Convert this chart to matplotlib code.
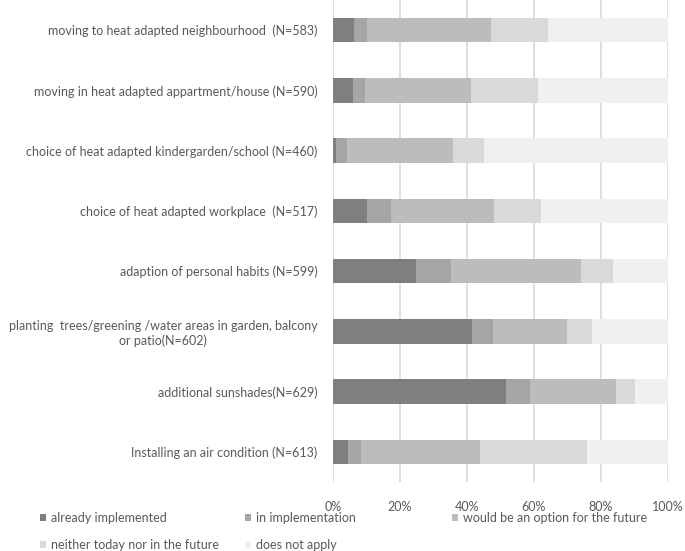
import numpy as np
import matplotlib.pyplot as plt

plt.rcParams['font.family'] = ['Lato', 'DejaVu Sans']

measures = ['moving to heat adapted neighbourhood  (N=583)',
            'moving in heat adapted appartment/house (N=590)',
            'choice of heat adapted kindergarden/school (N=460)',
            'choice of heat adapted workplace  (N=517)',
            'adaption of personal habits (N=599)',
            'planting  trees/greening /water areas in garden, balcony\nor patio(N=602)',
            'additional sunshades(N=629)',
            'Installing an air condition (N=613)']

already = [6.4, 6.1, 1.0, 10.2, 24.8, 41.6, 51.6, 4.6]
in_impl = [3.7, 3.5, 3.4, 7.2, 10.4, 6.3, 7.4, 3.8]
option = [37.3, 31.7, 31.5, 30.8, 38.9, 22.0, 25.6, 35.7]
neither = [16.9, 19.9, 9.3, 13.9, 9.7, 7.5, 5.6, 31.9]
not_apply = [35.7, 38.8, 54.8, 37.9, 16.2, 22.6, 9.8, 24.0]

series = [('already implemented', already, '#7f7f7f'),
          ('in implementation', in_impl, '#a5a5a5'),
          ('would be an option for the future', option, '#bcbcbc'),
          ('neither today nor in the future', neither, '#d9d9d9'),
          ('does not apply', not_apply, '#f0f0f0')]

txt = '#595959'
fs = 9
fig = plt.figure(figsize=(6.85, 5.51), dpi=100)
ax = fig.add_axes([0.4857, 0.1252, 0.489, 0.8748])

y = np.arange(len(measures))
left = np.zeros(len(measures))
handles = []
for name, vals, col in series:
    vals = np.array(vals)
    h = ax.barh(y, vals, left=left, height=0.41, color=col, label=name)
    handles.append(h)
    left += vals

ax.set_xlim(0, 100)
ax.set_ylim(len(measures) - 0.5, -0.5)
ax.set_xticks(np.arange(0, 101, 20))
ax.set_xticklabels([f'{v}%' for v in range(0, 101, 20)])
ax.set_yticks(y)
ax.set_yticklabels(measures, multialignment='center')
ax.tick_params(length=0, labelsize=fs, colors=txt, pad=11)
ax.tick_params(axis='x', pad=14)
ax.xaxis.grid(True, color='#d9d9d9', linewidth=1.2)
ax.set_axisbelow(True)
for s in ax.spines.values():
    s.set_visible(False)

# legend laid out in three columns like the original
cols = [([handles[0], handles[3]], 40 / 685),
        ([handles[1], handles[4]], 245 / 685),
        ([handles[2]], 452 / 685)]
for hs, xpos in cols:
    fig.legend(handles=hs, labels=[h.get_label() for h in hs],
               loc='upper left', bbox_to_anchor=(xpos, 1 - 512 / 551),
               frameon=False, fontsize=fs, labelcolor=txt,
               handlelength=0.5, handleheight=0.5, handletextpad=0.4,
               borderpad=0, borderaxespad=0, labelspacing=1.2)

fig.savefig('out.png', dpi=100)
